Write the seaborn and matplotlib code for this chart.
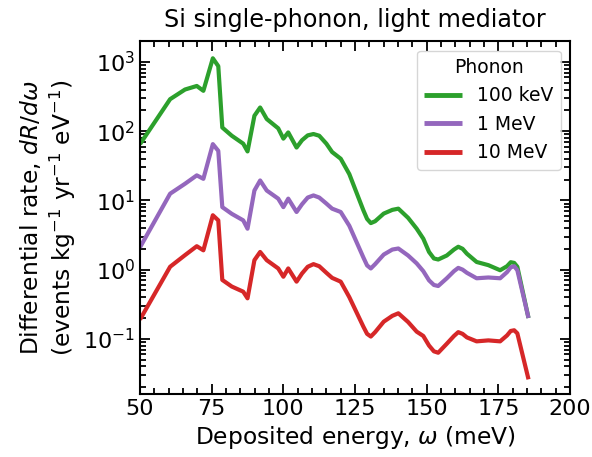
import matplotlib
matplotlib.use("Agg")
import matplotlib.pyplot as plt
import matplotlib.ticker as mticker
import numpy as np
import pandas as pd
import seaborn as sns

# Deposited energy (meV)
omega = [50, 60.5, 65.7, 69.8, 72.1, 75.4, 77.3, 78.7, 82, 86, 87.5, 89.9, 91.9,
         94.2, 98.2, 100, 101.7, 104.6, 106.5, 108.5, 110.5, 112.5, 115, 117, 120, 123, 127.9,
         129.2, 130.5, 132, 135, 138, 140.1, 143.5, 146.5, 148.8, 150.8, 152.5, 154, 157,
         159.5, 161, 162.5, 164, 167.4, 171.5, 175.6, 178, 179.3, 180.5, 181.6, 185.5]

# Differential rate (events / kg / yr / eV) for each dark-matter mass
rate_100keV = [65, 290, 400, 450, 383, 1130, 870, 113, 86, 66, 51, 167, 220,
               150, 110, 78, 96, 58, 74, 87, 91, 86, 66, 50, 40, 24, 7.2,
               5.4, 4.7, 5.0, 6.45, 7.3, 7.6, 5.6, 3.9, 2.8, 1.8, 1.45, 1.4, 1.6,
               1.95, 2.14, 2.0, 1.7, 1.29, 1.16, 0.98, 1.12, 1.28, 1.25, 1.1, 0.2]
rate_1MeV = [2.1, 12.5, 17.4, 23, 20.5, 65, 52, 8.0, 6.4, 5.15, 3.9, 13.9, 19.4,
             13.9, 10.6, 8.0, 10.6, 6.8, 8.8, 11.0, 11.8, 11.0, 9.0, 7.6, 6.8, 4.3, 1.5,
             1.15, 1.04, 1.2, 1.65, 1.95, 2.02, 1.6, 1.23, 0.95, 0.7, 0.6, 0.58, 0.75,
             0.95, 1.06, 1.0, 0.9, 0.75, 0.77, 0.75, 0.92, 1.08, 1.12, 0.98, 0.2]
rate_10MeV = [0.19, 1.1, 1.62, 2.18, 1.9, 6.1, 5.15, 0.71, 0.57, 0.48, 0.385, 1.37, 1.8,
              1.37, 1.04, 0.79, 1.04, 0.67, 0.88, 1.1, 1.2, 1.12, 0.9, 0.76, 0.67, 0.4, 0.15,
              0.118, 0.108, 0.125, 0.177, 0.215, 0.234, 0.175, 0.127, 0.11, 0.08, 0.066, 0.063, 0.085,
              0.11, 0.125, 0.118, 0.105, 0.092, 0.095, 0.092, 0.112, 0.13, 0.133, 0.12, 0.026]

masses = ["100 keV", "1 MeV", "10 MeV"]
colors = ["#2ca02c", "#9467bd", "#d62728"]

df = pd.concat([
    pd.DataFrame({"omega": omega, "rate": r, "mass": m})
    for m, r in zip(masses, [rate_100keV, rate_1MeV, rate_10MeV])
], ignore_index=True)

sns.set_theme(style="ticks")
plt.rcParams["font.family"] = ["DejaVu Sans"]
plt.rcParams.update({
    "text.color": "black", "axes.labelcolor": "black", "axes.edgecolor": "black",
    "xtick.color": "black", "ytick.color": "black",
})

fig = plt.figure(figsize=(5.92, 4.57), dpi=100)
ax = fig.add_axes([0.2365, 0.138, 0.7265, 0.772])

sns.lineplot(data=df, x="omega", y="rate", hue="mass", hue_order=masses,
             palette=colors, linewidth=3.0, sort=False, ax=ax)
for line in ax.get_lines():
    line.set_solid_joinstyle("round")
    line.set_solid_capstyle("butt")

ax.set_yscale("log")
ax.set_xlim(50, 200)
ax.set_ylim(1.6e-2, 2.0e3)

ax.xaxis.set_major_locator(mticker.MultipleLocator(25))
ax.xaxis.set_minor_locator(mticker.MultipleLocator(5))
ax.yaxis.set_major_locator(mticker.LogLocator(base=10, numticks=10))
ax.yaxis.set_minor_locator(mticker.LogLocator(base=10, subs=np.arange(2, 10), numticks=20))
ax.yaxis.set_minor_formatter(mticker.NullFormatter())

ax.tick_params(which="both", direction="in", top=True, right=True,
               labelsize=16, width=1.3)
ax.tick_params(which="major", length=7)
ax.tick_params(which="minor", length=4)
for s in ax.spines.values():
    s.set_linewidth(1.5)

ax.set_xlabel(r"Deposited energy, $\omega$ (meV)", fontsize=16.8)
ax.set_ylabel("Differential rate, $dR/d\\omega$\n"
              r"(events kg$^{-1}$ yr$^{-1}$ eV$^{-1}$)", fontsize=16.8)
ax.set_title("Si single-phonon, light mediator", fontsize=17.2, pad=10)

leg = ax.legend(title="Phonon", loc="upper right", fontsize=13.5, title_fontsize=13.5,
                frameon=True, handlelength=2.0)
for line in leg.get_lines():
    line.set_linewidth(3.5)

fig.savefig("out.png", dpi=100)
